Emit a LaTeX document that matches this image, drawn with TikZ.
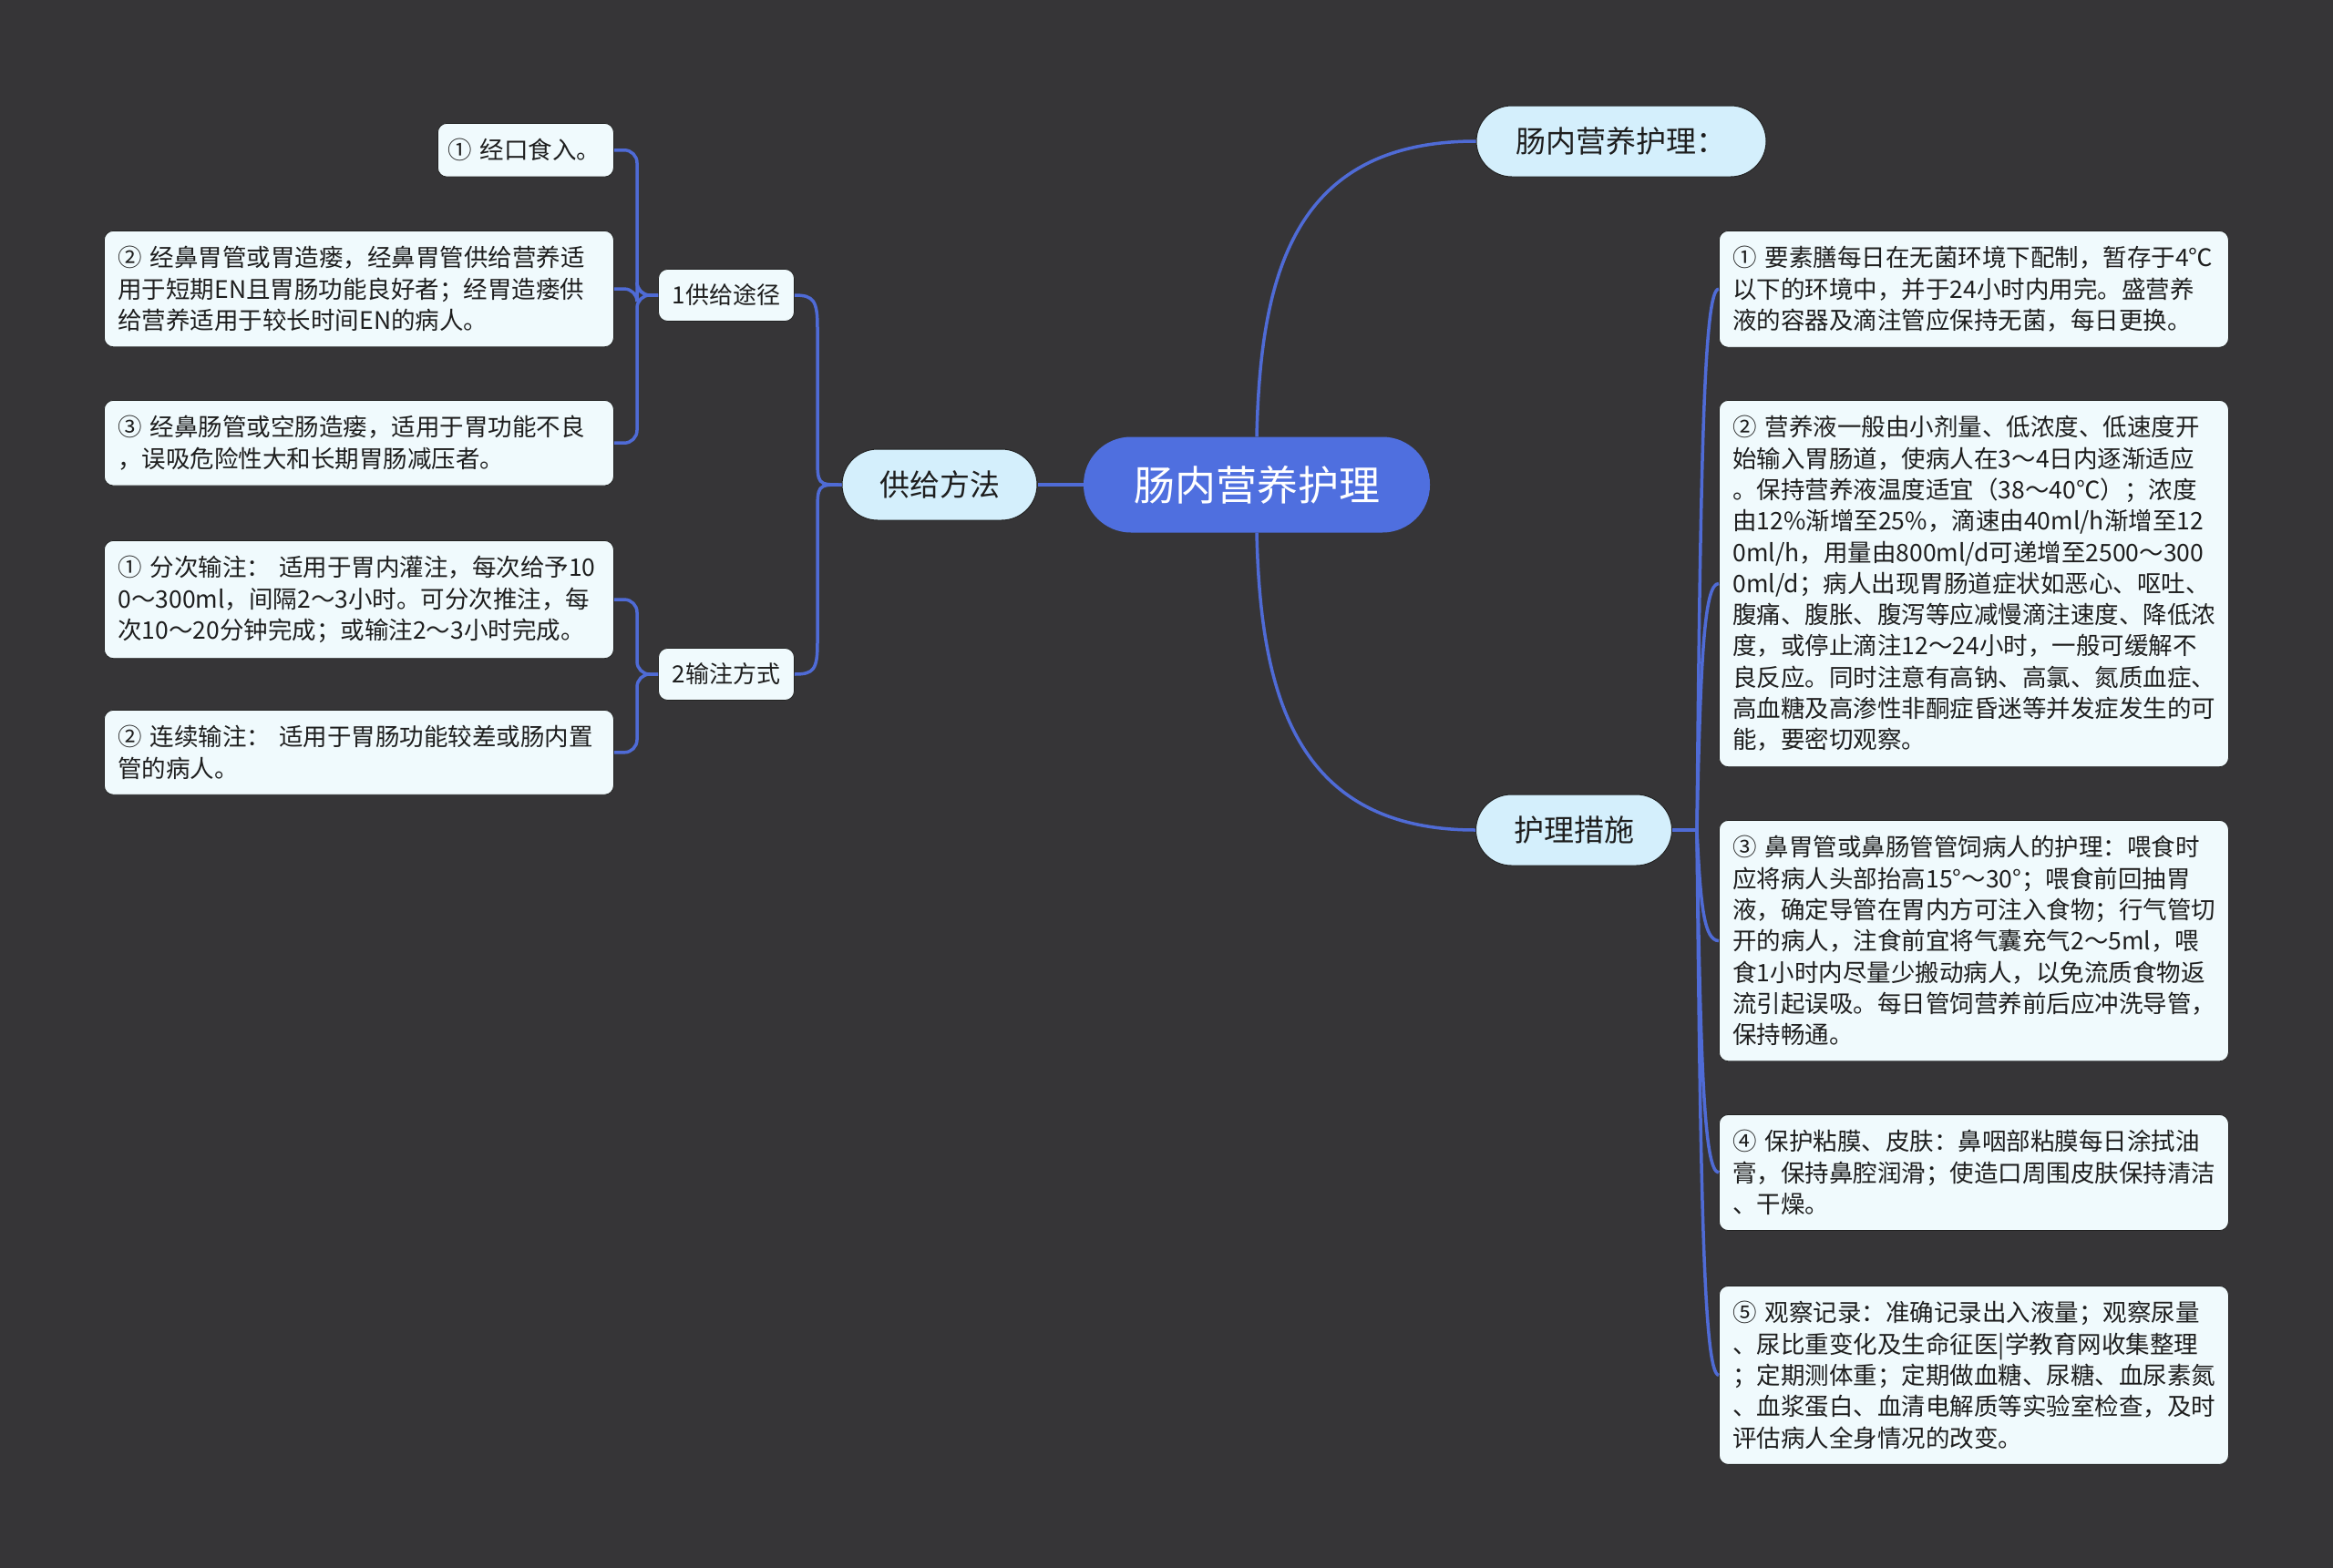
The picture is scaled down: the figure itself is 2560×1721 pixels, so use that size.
\documentclass[tikz,border=0pt]{standalone}
\usepackage{fontspec}
\setmainfont{Noto Sans CJK SC}
\definecolor{bgc}{HTML}{363537}
\definecolor{rootf}{HTML}{4F6FDF}
\definecolor{pillf}{HTML}{D4EFFC}
\definecolor{leaff}{HTML}{F0FAFD}
\definecolor{linec}{HTML}{4F6BD6}
\definecolor{textc}{HTML}{1E1E1E}
\definecolor{edgec}{HTML}{222222}
\tikzset{
  conn/.style={draw=linec, line width=3.5pt},
  leaf/.style={fill=leaff, draw=edgec, line width=0.8pt, rounded corners=10pt, text width=529pt,
    inner xsep=15pt, inner ysep=17pt, align=left, font=\fontsize{26.5}{34.3}\selectfont,
    text=textc, anchor=north west},
  subn/.style={fill=leaff, draw=edgec, line width=0.8pt, rounded corners=10pt, minimum width=149pt,
    minimum height=57pt, inner sep=0pt, font=\fontsize{26}{30}\selectfont, text=textc},
  pill/.style={fill=pillf, draw=edgec, line width=1pt, rounded corners=39pt, minimum height=78pt,
    inner sep=0pt, font=\fontsize{33}{36}\selectfont, text=textc},
  rootn/.style={fill=rootf, rounded corners=52pt, minimum width=380pt, minimum height=105pt,
    inner sep=0pt, font=\fontsize{45}{50}\selectfont, text=white}
}
\begin{document}
\begin{tikzpicture}[x=1pt,y=-1pt]
\fill[bgc] (0,0) rectangle (2560,1721);
\useasboundingbox (0,0) rectangle (2560,1721);

% main nodes
\node[rootn] (root) at (1379,532) {肠内营养护理};
\node[pill, minimum width=318pt] (top) at (1779,155) {肠内营养护理：};
\node[pill, minimum width=215pt] (hl) at (1727,911) {护理措施};
\node[pill, minimum width=214pt] (gf) at (1031,532) {供给方法};
\node[subn] (t1) at (797,324) {1供给途径};
\node[subn] (t2) at (797,740) {2输注方式};

% left leaves
\node[leaf, text width=171pt, inner xsep=11pt] (a1) at (480,135) {\mbox{① 经口食入。}};
\node[leaf] (a2) at (114,253) {② 经鼻胃管或胃造瘘，经鼻胃管供给营养适\\用于短期EN且胃肠功能良好者；经胃造瘘供\\给营养适用于较长时间EN的病人。};
\node[leaf] (a3) at (114,439) {③ 经鼻肠管或空肠造瘘，适用于胃功能不良\\，误吸危险性大和长期胃肠减压者。};
\node[leaf] (b1) at (114,593) {① 分次输注：\ 适用于胃内灌注，每次给予10\\0～300ml，间隔2～3小时。可分次推注，每\\次10～20分钟完成；或输注2～3小时完成。};
\node[leaf] (b2) at (114,779) {② 连续输注：\ 适用于胃肠功能较差或肠内置\\管的病人。};

% right leaves
\node[leaf] (c1) at (1886,253) {① 要素膳每日在无菌环境下配制，暂存于4℃\\以下的环境中，并于24小时内用完。盛营养\\液的容器及滴注管应保持无菌，每日更换。};
\node[leaf] (c2) at (1886,439) {② 营养液一般由小剂量、低浓度、低速度开\\始输入胃肠道，使病人在3～4日内逐渐适应\\。保持营养液温度适宜（38～40℃）；浓度\\由12\%渐增至25\%，滴速由40ml/h渐增至12\\0ml/h，用量由800ml/d可递增至2500～300\\0ml/d；病人出现胃肠道症状如恶心、呕吐、\\腹痛、腹胀、腹泻等应减慢滴注速度、降低浓\\度，或停止滴注12～24小时，一般可缓解不\\良反应。同时注意有高钠、高氯、氮质血症、\\高血糖及高渗性非酮症昏迷等并发症发生的可\\能，要密切观察。};
\node[leaf] (c3) at (1886,900) {③ 鼻胃管或鼻肠管管饲病人的护理：喂食时\\应将病人头部抬高15°～30°；喂食前回抽胃\\液，确定导管在胃内方可注入食物；行气管切\\开的病人，注食前宜将气囊充气2～5ml，喂\\食1小时内尽量少搬动病人，以免流质食物返\\流引起误吸。每日管饲营养前后应冲洗导管，\\保持畅通。};
\node[leaf] (c4) at (1886,1223) {④ 保护粘膜、皮肤：鼻咽部粘膜每日涂拭油\\膏，保持鼻腔润滑；使造口周围皮肤保持清洁\\、干燥。};
\node[leaf] (c5) at (1886,1411) {⑤ 观察记录：准确记录出入液量；观察尿量\\、尿比重变化及生命征医|学教育网收集整理\\；定期测体重；定期做血糖、尿糖、血尿素氮\\、血浆蛋白、血清电解质等实验室检查，及时\\评估病人全身情况的改变。};

% connectors
\draw[conn] (root.north) .. controls (1383,300) and (1420,155) .. (top.west);
\draw[conn] (root.south) .. controls (1383,760) and (1420,911) .. (hl.west);
\draw[conn] (root.west) -- (gf.east);
\draw[conn] (gf.west) .. controls (897,532) and (897,532) .. (897,500) -- (897,360) .. controls (897,330) and (893,324) .. (t1.east);
\draw[conn] (gf.west) .. controls (897,532) and (897,532) .. (897,564) -- (897,705) .. controls (897,735) and (893,740) .. (t2.east);
\draw[conn, rounded corners=14pt] (a1.east) -| (699,324) -- (t1.west);
\draw[conn, rounded corners=14pt] (a2.east) -| (699,324) -- (t1.west);
\draw[conn, rounded corners=14pt] (a3.east) -| (699,324) -- (t1.west);
\draw[conn, rounded corners=14pt] (b1.east) -| (699,740) -- (t2.west);
\draw[conn, rounded corners=14pt] (b2.east) -| (699,740) -- (t2.west);
\draw[conn] (hl.east) -- (1862,911);
\foreach \n/\ly in {c1/316,c2/640,c3/1032,c4/1286,c5/1508}{
  \draw[conn] (1862,911) .. controls (1866,{\ly+(911-\ly)*0.3}) and (1870,\ly) .. (\n.west);
}
\end{tikzpicture}
\end{document}
